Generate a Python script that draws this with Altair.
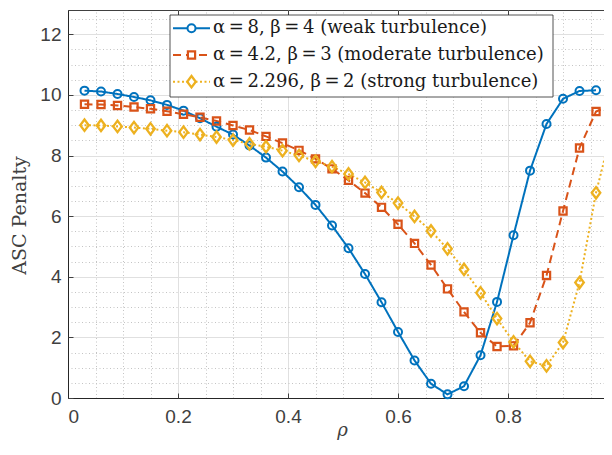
import altair as alt
import pandas as pd

# ---------------- data ----------------
rho = [0.03, 0.06, 0.09, 0.12, 0.15, 0.18, 0.21, 0.24, 0.27, 0.30, 0.33,
       0.36, 0.39, 0.42, 0.45, 0.48, 0.51, 0.54, 0.57, 0.60, 0.63, 0.66,
       0.69, 0.72, 0.75, 0.78, 0.81, 0.84, 0.87, 0.90, 0.93, 0.96, 0.99]

weak = [10.14, 10.11, 10.03, 9.93, 9.82, 9.67, 9.48, 9.23, 8.95, 8.69, 8.33,
        7.93, 7.47, 6.95, 6.37, 5.69, 4.94, 4.09, 3.16, 2.18, 1.24, 0.47,
        0.12, 0.39, 1.41, 3.17, 5.37, 7.50, 9.04, 9.87, 10.13, 10.15]

moderate = [9.69, 9.68, 9.65, 9.60, 9.54, 9.46, 9.36, 9.26, 9.14, 8.99, 8.84,
            8.63, 8.41, 8.17, 7.89, 7.56, 7.18, 6.76, 6.29, 5.73, 5.10, 4.39,
            3.60, 2.84, 2.15, 1.70, 1.72, 2.48, 4.04, 6.17, 8.25, 9.45, 9.69]

strong = [9.00, 8.99, 8.96, 8.92, 8.88, 8.82, 8.77, 8.69, 8.61, 8.51, 8.38,
          8.29, 8.16, 8.00, 7.81, 7.63, 7.39, 7.11, 6.78, 6.43, 5.99, 5.51,
          4.92, 4.24, 3.47, 2.62, 1.85, 1.21, 1.06, 1.83, 3.81, 6.77, 8.93]

labels = ["\u03b1\u2009=\u20098, \u03b2\u2009=\u20094 (weak turbulence)",
          "\u03b1\u2009=\u20094.2, \u03b2\u2009=\u20093 (moderate turbulence)",
          "\u03b1\u2009=\u20092.296, \u03b2\u2009=\u20092 (strong turbulence)"]
colors = ["#0072BD", "#D95319", "#EDB120"]
dashes = [[1, 0], [8, 5], [2, 2.5]]
diamond = "M0,-1L0.75,0L0,1L-0.75,0Z"
shapes = ["circle", "square", diamond]
sizes = [64, 52, 130]
marker_widths = [2, 2.2, 2.3]

x_major = [0, 0.2, 0.4, 0.6, 0.8]
x_minor = [0.05, 0.1, 0.15, 0.25, 0.3, 0.35, 0.45, 0.5, 0.55, 0.65, 0.7,
           0.75, 0.85, 0.9, 0.95]
y_major = [0, 2, 4, 6, 8, 10, 12]
y_minor = [0.5, 1, 1.5, 2.5, 3, 3.5, 4.5, 5, 5.5, 6.5, 7, 7.5, 8.5, 9, 9.5,
           10.5, 11, 11.5, 12.5]

rows = []
for lab, ys_ in zip(labels, [weak, moderate, strong]):
    for r, v in zip(rho, ys_):
        rows.append({"rho": r, "value": v, "series": lab})
df = pd.DataFrame(rows)

leg_df = pd.DataFrame({"series": labels, "row": [0, 1, 2]})
box_df = pd.DataFrame({"k": [0]})

# ---------------- layout ----------------
W, H = 536, 388
xs = alt.Scale(domain=[0, 0.9745], nice=False, zero=False)
ys = alt.Scale(domain=[0, 12.8], nice=False, zero=False)
color_scale = alt.Scale(domain=labels, range=colors)
dash_scale = alt.Scale(domain=labels, range=dashes)
shape_scale = alt.Scale(domain=labels, range=shapes)
size_scale = alt.Scale(type="ordinal", domain=labels, range=sizes)
sw_scale = alt.Scale(type="ordinal", domain=labels, range=marker_widths)

TICK = "#404040"
LABEL = "#404040"
SERIF = "DejaVu Serif"

base = alt.Chart(df)

minor = base.mark_point(opacity=0).encode(
    x=alt.X("rho:Q", scale=xs, axis=alt.Axis(
        orient="top", values=x_minor, grid=True, gridColor="#c4c4c4",
        gridDash=[1, 2.5], gridWidth=1, labels=False, ticks=False,
        domain=False, title="")),
    y=alt.Y("value:Q", scale=ys, axis=alt.Axis(
        orient="right", values=y_minor, grid=True, gridColor="#c4c4c4",
        gridDash=[1, 2.5], gridWidth=1, labels=False, ticks=False,
        domain=False, title="")),
)

lines = base.mark_line(strokeWidth=2).encode(
    x=alt.X("rho:Q", scale=xs, axis=alt.Axis(
        orient="bottom", values=x_major, format=".1~f", grid=True,
        gridColor="#e0e0e0", gridWidth=1, ticks=False, domain=True,
        domainColor="#262626", domainWidth=1,
        labelFont="Liberation Sans", labelFontSize=19, labelColor=LABEL,
        labelPadding=9, title="\u03c1", titleFont=SERIF,
        titleFontStyle="italic", titleFontWeight="normal", titleFontSize=18,
        titleColor=LABEL, titleBaseline="alphabetic", titleY=37,
        titleX=274)),
    y=alt.Y("value:Q", scale=ys, axis=alt.Axis(
        orient="left", values=y_major, format="d", grid=True,
        gridColor="#e0e0e0", gridWidth=1, ticks=False, domain=True,
        domainColor="#262626", domainWidth=1,
        labelFont="Liberation Sans", labelFontSize=19, labelColor=LABEL,
        labelPadding=7, title="ASC Penalty", titleFont=SERIF,
        titleFontWeight="normal", titleFontSize=19, titleColor=LABEL,
        titlePadding=10, titleY=205)),
    color=alt.Color("series:N", scale=color_scale, legend=None),
    strokeDash=alt.StrokeDash("series:N", scale=dash_scale, legend=None),
    order=alt.Order("rho:Q"),
)

ticks_bottom = base.mark_point(opacity=0).encode(
    x=alt.X("rho:Q", scale=xs, axis=alt.Axis(
        orient="top", offset=-H, values=x_major, grid=False, labels=False,
        ticks=True, tickSize=5, tickColor=TICK, tickWidth=1, domain=False,
        title="")),
    y=alt.Y("value:Q", scale=ys, axis=alt.Axis(
        orient="right", offset=-W, values=y_major, grid=False, labels=False,
        ticks=True, tickSize=5, tickColor=TICK, tickWidth=1, domain=False,
        title="")),
)

ticks_top = base.mark_point(opacity=0).encode(
    x=alt.X("rho:Q", scale=xs, axis=alt.Axis(
        orient="bottom", offset=-H, values=x_major, grid=False, labels=False,
        ticks=True, tickSize=5, tickColor=TICK, tickWidth=1, domain=False,
        title="")),
    y=alt.Y("value:Q", scale=ys, axis=None),
)

points = base.mark_point(filled=False, opacity=1).encode(
    x=alt.X("rho:Q", scale=xs, axis=None),
    y=alt.Y("value:Q", scale=ys, axis=None),
    color=alt.Color("series:N", scale=color_scale, legend=None),
    shape=alt.Shape("series:N", scale=shape_scale, legend=None),
    size=alt.Size("series:N", scale=size_scale, legend=None),
    strokeWidth=alt.StrokeWidth("series:N", scale=sw_scale, legend=None),
)

# ---------------- legend ----------------
leg_y = alt.Y("row:Q", scale=alt.Scale(domain=[0, 2], range=[18.3, 71.7]),
              axis=None)

leg_box = alt.Chart(box_df).mark_rect(
    fill="white", stroke="#262626", strokeWidth=0.8).encode(
    x=alt.value(102), x2=alt.value(485), y=alt.value(5), y2=alt.value(87))

leg_lines = alt.Chart(leg_df).mark_rule(strokeWidth=2).encode(
    x=alt.value(105), x2=alt.value(142), y=leg_y,
    color=alt.Color("series:N", scale=color_scale, legend=None),
    strokeDash=alt.StrokeDash("series:N", scale=dash_scale, legend=None),
)

leg_pts = alt.Chart(leg_df).mark_point(
    filled=False, opacity=1, fill="white").encode(
    x=alt.value(123.5), y=leg_y,
    color=alt.Color("series:N", scale=color_scale, legend=None),
    shape=alt.Shape("series:N", scale=shape_scale, legend=None),
    size=alt.Size("series:N", scale=size_scale, legend=None),
    strokeWidth=alt.StrokeWidth("series:N", scale=sw_scale, legend=None),
)

leg_text = alt.Chart(leg_df).mark_text(
    align="left", baseline="middle", font=SERIF, fontSize=18,
    color="#1a1a1a").encode(
    x=alt.value(145), y=leg_y, text="series:N")

chart = alt.layer(
    minor, lines, ticks_bottom, ticks_top, points,
    leg_box, leg_lines, leg_pts, leg_text,
).resolve_scale(
    y="independent"
).resolve_axis(
    x="independent", y="independent"
).properties(
    width=W, height=H,
    autosize=alt.AutoSizeParams(type="none"),
    padding={"left": 60, "top": 2, "right": 0, "bottom": 42},
    background="white",
).configure_view(
    stroke="#404040", strokeWidth=1
)

chart.save("out.html", embed_options={"renderer": "svg", "actions": False})
